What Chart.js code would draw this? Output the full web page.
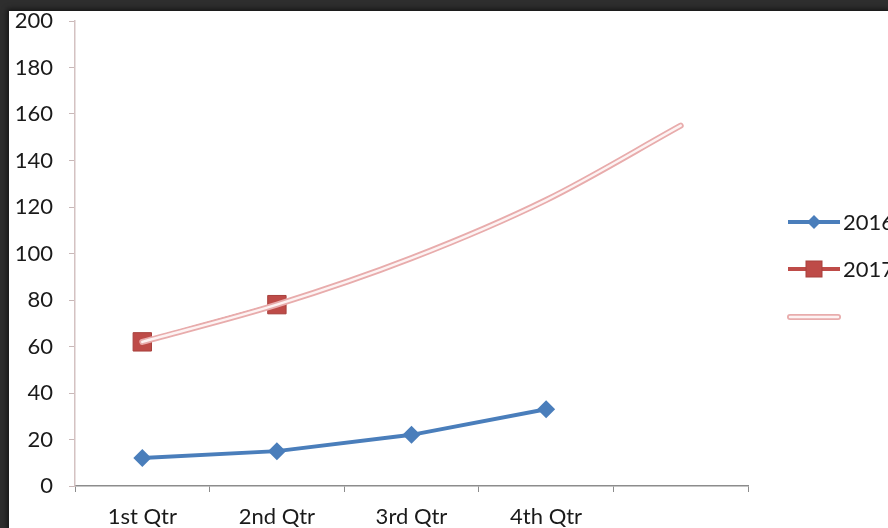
<!DOCTYPE html>
<html>
<head>
<meta charset="utf-8">
<script src="https://cdn.jsdelivr.net/npm/chart.js@4.4.1/dist/chart.umd.min.js"></script>
<style>
  html, body { margin: 0; padding: 0; background: #2e2e2e; width: 888px; height: 528px; overflow: hidden; }
  #frame {
    position: absolute; left: 9px; top: 11px; width: 879px; height: 517px;
    background: #fff; box-shadow: 0 0 5px 2px rgba(0,0,0,0.55);
  }
  #chart { display: block; }
</style>
</head>
<body>
<div id="frame"><canvas id="chart" width="879" height="517"></canvas></div>
<script>
// Categories (Excel leaves one empty slot at the end for the trendline forecast)
const quarters = ['1st Qtr', '2nd Qtr', '3rd Qtr', '4th Qtr', ''];

// Series values
const sales2016 = [12, 15, 22, 33, null];
const sales2017 = [62, 78, null, null, null];
// Exponential trendline of 2017, forecast three periods forward
const trend2017 = [62, 78, 98, 123, 155];

const yTicks = { min: 0, max: 200, step: 20 };

const blue = '#4a7ebb';
const red = '#be4b48';
const pinkEdge = '#e8acac';
const pinkFill = '#fdf3f3';
const fontFamily = 'Lato, "Liberation Sans", sans-serif';

// Draw the legend on the right like Excel does (line + marker samples)
const sideLegend = {
  id: 'sideLegend',
  afterDraw(chart) {
    const ctx = chart.ctx;
    const x0 = chart.chartArea.right + 40;
    const x1 = x0 + 52;
    const rows = [211, 258, 306];
    ctx.save();
    ctx.font = '22px ' + fontFamily;
    ctx.textBaseline = 'middle';

    // 2016
    ctx.strokeStyle = blue; ctx.lineWidth = 4;
    ctx.beginPath(); ctx.moveTo(x0, rows[0]); ctx.lineTo(x1, rows[0]); ctx.stroke();
    const cx = (x0 + x1) / 2;
    ctx.fillStyle = blue;
    ctx.beginPath();
    ctx.moveTo(cx, rows[0] - 7); ctx.lineTo(cx + 7, rows[0]);
    ctx.lineTo(cx, rows[0] + 7); ctx.lineTo(cx - 7, rows[0]); ctx.closePath(); ctx.fill();
    ctx.fillStyle = '#1a1a1a';
    ctx.fillText(chart.data.datasets[0].label, x1 + 3, rows[0] + 1);

    // 2017
    ctx.strokeStyle = red; ctx.lineWidth = 4;
    ctx.beginPath(); ctx.moveTo(x0, rows[1]); ctx.lineTo(x1, rows[1]); ctx.stroke();
    ctx.fillStyle = red;
    ctx.fillRect(cx - 8, rows[1] - 8, 16, 16);
    ctx.strokeStyle = '#a8403d'; ctx.lineWidth = 1;
    ctx.strokeRect(cx - 8, rows[1] - 8, 16, 16);
    ctx.fillStyle = '#1a1a1a';
    ctx.fillText(chart.data.datasets[1].label, x1 + 3, rows[1] + 1);

    // trendline (no label)
    ctx.strokeStyle = pinkEdge; ctx.lineWidth = 6; ctx.lineCap = 'round';
    ctx.beginPath(); ctx.moveTo(x0 + 2, rows[2]); ctx.lineTo(x1 - 2, rows[2]); ctx.stroke();
    ctx.strokeStyle = pinkFill; ctx.lineWidth = 2.5;
    ctx.beginPath(); ctx.moveTo(x0 + 2, rows[2]); ctx.lineTo(x1 - 2, rows[2]); ctx.stroke();
    ctx.restore();
  }
};

const ctx = document.getElementById('chart').getContext('2d');
new Chart(ctx, {
  type: 'line',
  data: {
    labels: quarters,
    datasets: [
      {
        label: '2016',
        data: sales2016,
        borderColor: blue,
        backgroundColor: blue,
        borderWidth: 4,
        pointStyle: 'rectRot',
        pointRadius: 9,
        pointBorderWidth: 0,
        order: 3
      },
      {
        label: '2017',
        data: sales2017,
        borderColor: red,
        backgroundColor: red,
        borderWidth: 4,
        pointStyle: 'rect',
        pointRadius: 13,
        pointBorderColor: '#a8403d',
        pointBorderWidth: 1,
        order: 2
      },
      {
        label: '',
        data: trend2017,
        borderColor: pinkEdge,
        borderWidth: 6,
        pointRadius: 0,
        cubicInterpolationMode: 'monotone',
        borderCapStyle: 'round',
        order: 1
      },
      {
        label: '',
        data: trend2017,
        borderColor: pinkFill,
        borderWidth: 2.5,
        pointRadius: 0,
        cubicInterpolationMode: 'monotone',
        borderCapStyle: 'round',
        order: 0
      }
    ]
  },
  options: {
    responsive: false,
    animation: false,
    layout: { autoPadding: false, padding: { left: 0, top: 10, right: 140, bottom: 0 } },
    plugins: {
      legend: { display: false },
      tooltip: { enabled: false }
    },
    scales: {
      x: {
        offset: true,
        grid: { offset: true, drawOnChartArea: false, drawTicks: true, tickLength: 6, color: '#8c8c8c' },
        border: { color: '#8c8c8c', width: 1.5 },
        ticks: { color: '#1a1a1a', font: { family: fontFamily, size: 22 }, padding: 12, maxRotation: 0, autoSkip: false },
        afterFit(scale) { scale.height = 42; }
      },
      y: {
        min: yTicks.min,
        max: yTicks.max,
        grid: { drawOnChartArea: false, drawTicks: true, tickLength: 6, color: '#c9b8b8' },
        border: { color: '#d4c2c2', width: 1.5 },
        ticks: { stepSize: yTicks.step, color: '#1a1a1a', font: { family: fontFamily, size: 22 }, padding: 16 },
        afterFit(scale) {
          scale.width = 66;
          scale.paddingTop = 0;
          scale.paddingBottom = 0;
        }
      }
    }
  },
  plugins: [sideLegend]
});
</script>
</body>
</html>
